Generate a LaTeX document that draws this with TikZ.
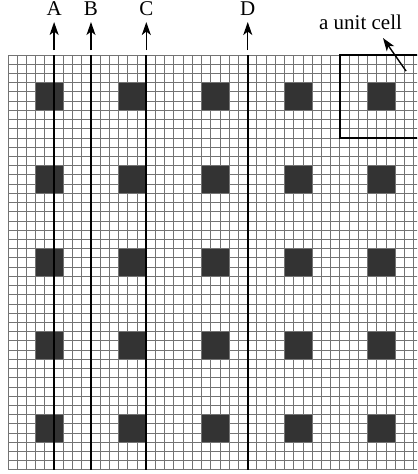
\documentclass[tikz,border=0pt]{standalone}
\usepackage{fontspec}
\setmainfont{Liberation Serif}
\usetikzlibrary{arrows.meta, positioning}

\begin{document}
\begin{tikzpicture}[
    x=9.22pt, y=9.22pt,
    gridline/.style={draw=black!55, line width=1pt},
    dot/.style={fill=black!80},
    probe/.style={draw=black, line width=1.8pt},
    cellbox/.style={draw=black, line width=1.6pt},
    lbl/.style={font=\fontsize{21}{24}\selectfont, inner xsep=0pt, inner ysep=6pt,
                text depth=0pt, anchor=south},
    note/.style={font=\fontsize{21}{24}\selectfont, inner sep=0pt, anchor=base},
    arr/.style={-{Stealth[length=13pt, width=9pt, inset=3.5pt]}, line width=1.4pt, draw=black}
]
\useasboundingbox (-0.868,-0.434) rectangle (44.36,50.97);
\clip (-0.868,-0.434) rectangle (44.36,50.97);

% fine grid
\draw[gridline, step=1] (0,0) grid (45,45);

% dark squares, one per unit cell
\foreach \i in {0,...,4}
  \foreach \j in {0,...,4}
    \fill[dot] (3+9*\i,39-9*\j) rectangle (6+9*\i,42-9*\j);

% one unit cell
\draw[cellbox] (36,45) rectangle (45,36);

% cut lines with their labels
\foreach \name/\x in {A/5, B/9, C/15, D/26} {
  \draw[probe] (\x,0) -- (\x,45);
  \coordinate (\name-foot) at (\x,45.54);
  \node[lbl] (\name) at (\x,48.58) {\name};
  \draw[arr] (\name-foot) -- (\name);
}

% unit cell note
\node[note] (cellnote) at (38.23,47.82) {a unit cell};
\coordinate (cell-tail) at (43.17,43.26);
\coordinate (cell-tip) at (40.67,46.84);
\draw[arr] (cell-tail) -- (cell-tip);
\end{tikzpicture}
\end{document}
